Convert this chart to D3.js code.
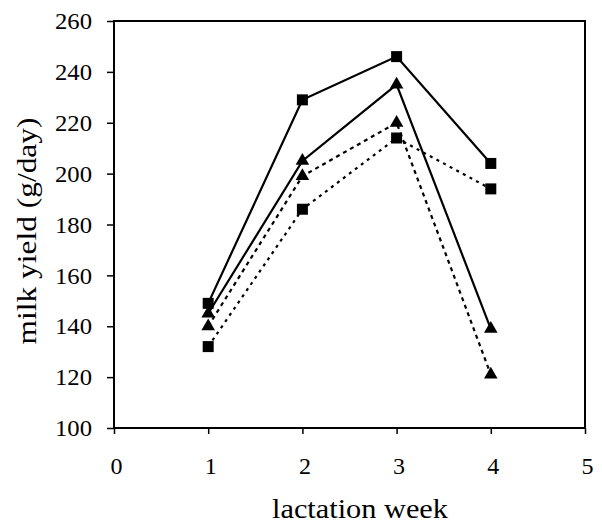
<!DOCTYPE html>
<html><head><meta charset="utf-8">
<script src="https://cdn.jsdelivr.net/npm/d3@7"></script>
<style>body{margin:0;background:#fff}svg{display:block}text{font-family:"Liberation Serif","Times New Roman",serif;fill:#000}</style>
</head><body>
<script>
const weeks = [1, 2, 3, 4];
const squareSolid = [149, 229, 246, 204];
const triangleSolid = [145, 205, 235, 139];
const triangleDotted = [140, 199, 220, 121];
const squareDotted = [132, 186, 214, 194];
const xTicks = [0, 1, 2, 3, 4, 5];
const yTicks = [100, 120, 140, 160, 180, 200, 220, 240, 260];

const series = [
  {name: "squareSolid", values: squareSolid, shape: "square", dash: null},
  {name: "triangleSolid", values: triangleSolid, shape: "triangle", dash: null},
  {name: "triangleDotted", values: triangleDotted, shape: "triangle", dash: "4,4"},
  {name: "squareDotted", values: squareDotted, shape: "square", dash: "3,4.5"}
];

const W = 602, H = 526;
const svg = d3.select("body").append("svg").attr("width", W).attr("height", H);
const x = d3.scaleLinear().domain([0, 5]).range([114, 585]);
const y = d3.scaleLinear().domain([100, 260]).range([428, 21]);

// frame
svg.append("rect").attr("x", x(0)).attr("y", y(260)).attr("width", x(5) - x(0)).attr("height", y(100) - y(260))
  .attr("fill", "none").attr("stroke", "#000").attr("stroke-width", 2);

const yAxis = svg.append("g").attr("transform", `translate(${x(0)},0)`)
  .call(d3.axisLeft(y).tickValues(yTicks).tickSize(7).tickPadding(15).tickFormat(d3.format("d")));
const xAxis = svg.append("g").attr("transform", `translate(0,${y(100)})`)
  .call(d3.axisBottom(x).tickValues(xTicks).tickSize(6).tickPadding(23).tickFormat(d3.format("d")));
[yAxis, xAxis].forEach(g => {
  g.select(".domain").remove();
  g.selectAll("line").attr("stroke", "#000").attr("stroke-width", 1.5);
  g.selectAll("text").style("font-size", "24px").attr("font-family", null);
});
yAxis.selectAll("text").attr("textLength", 37).attr("lengthAdjust", "spacingAndGlyphs");
xAxis.selectAll("text").attr("dx", 2);

const line = d3.line().x((d, i) => x(weeks[i])).y(d => y(d));
series.forEach(s => {
  svg.append("path").datum(s.values).attr("d", line).attr("fill", "none")
    .attr("stroke", "#000").attr("stroke-width", 2.2).attr("stroke-dasharray", s.dash);
});
series.forEach(s => {
  const g = svg.append("g");
  if (s.shape === "square") {
    g.selectAll("rect").data(s.values).join("rect")
      .attr("x", (d, i) => x(weeks[i]) - 5.5).attr("y", d => y(d) - 5.5)
      .attr("width", 11).attr("height", 11).attr("fill", "#000");
  } else {
    const tri = d3.symbol().type(d3.symbolTriangle).size(80);
    g.selectAll("path").data(s.values).join("path")
      .attr("transform", (d, i) => `translate(${x(weeks[i])},${y(d)})`)
      .attr("d", tri).attr("fill", "#000");
  }
});

svg.append("text").attr("x", 360).attr("y", 518).attr("text-anchor", "middle")
  .attr("textLength", 176).attr("lengthAdjust", "spacingAndGlyphs")
  .style("font-size", "27px").text("lactation week");
svg.append("text").attr("transform", "translate(36,231) rotate(-90)").attr("text-anchor", "middle")
  .attr("textLength", 227).attr("lengthAdjust", "spacingAndGlyphs")
  .style("font-size", "27px").text("milk yield (g/day)");
</script>
</body></html>
